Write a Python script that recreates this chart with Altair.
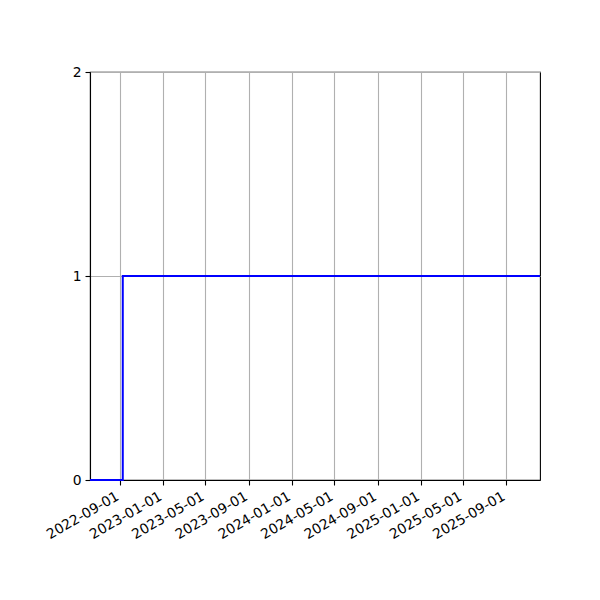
import altair as alt
import pandas as pd

dates = ["2022-06-08", "2022-09-09", "2025-12-06"]
values = [0, 1, 1]
tick_dates = [(2022, 9), (2023, 1), (2023, 5), (2023, 9), (2024, 1),
              (2024, 5), (2024, 9), (2025, 1), (2025, 5), (2025, 9)]
y_ticks = [0, 1, 2]

df = pd.DataFrame({"date": dates, "value": values})

tick_vals = [alt.DateTime(year=y, month=m, date=1, utc=True) for y, m in tick_dates]

chart = alt.Chart(df).mark_line(
    interpolate="step-after", color="#0000ff", strokeWidth=2
).encode(
    x=alt.X("date:T",
            scale=alt.Scale(type="utc",
                            domain=[alt.DateTime(year=2022, month=6, date=8, utc=True),
                                    alt.DateTime(year=2025, month=12, date=6, utc=True)]),
            axis=alt.Axis(values=tick_vals,
                          labelExpr="utcFormat(datum.value, '%Y-%m-%d')",
                          labelAngle=330, labelAlign="right", labelBaseline="top",
                          labelOverlap=False, labelFlush=False, labelPadding=4,
                          labelOffset=-6,
                          title=None, grid=True)),
    y=alt.Y("value:Q", scale=alt.Scale(domain=[0, 2], nice=False, zero=False),
            axis=alt.Axis(values=y_ticks, title=None, grid=True,
                          labelExpr="format(datum.value, 'd')",
                          labelOverlap=False, labelFlush=False)),
).properties(
    width=450, height=408,
    autosize=alt.AutoSizeParams(type="none"),
    padding={"left": 82, "top": 64, "right": 50, "bottom": 112},
).configure_view(
    stroke="black", strokeWidth=1.1
).configure_axis(
    domainColor="black", domainWidth=1.1,
    tickColor="black", tickSize=5, tickWidth=1.1,
    labelColor="black", labelFont="DejaVu Sans", labelFontSize=13.9,
    labelPadding=4,
    gridColor="#b0b0b0", gridWidth=1.1,
)

chart.save("out.html", embed_options={"renderer": "svg", "actions": False})
